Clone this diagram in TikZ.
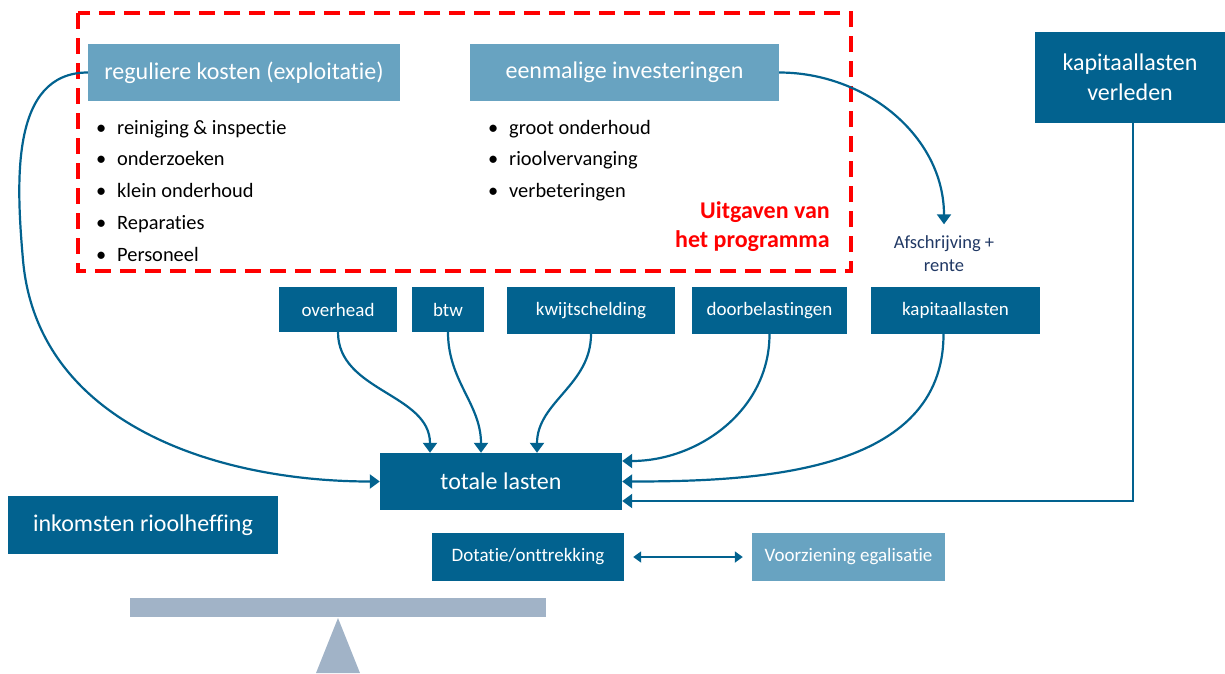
\documentclass[tikz,border=0pt]{standalone}
\usepackage{fontspec}
\setmainfont{Carlito}[Ligatures=NoCommon]
\usetikzlibrary{arrows.meta,positioning}
\definecolor{donker}{HTML}{02628F}
\definecolor{licht}{HTML}{68A3C1}
\definecolor{balk}{HTML}{A1B3C7}
\definecolor{navy}{HTML}{203864}

\begin{document}
\begin{tikzpicture}[x=1pt,y=1pt,
  donkerbox/.style={fill=donker,text=white,inner sep=0pt,align=center,font=\fontsize{24}{30}\selectfont},
  lichtbox/.style={fill=licht,text=white,inner sep=0pt,font=\fontsize{24}{28}\selectfont},
  kleinbox/.style={fill=donker,text=white,inner sep=0pt,font=\fontsize{19}{22}\selectfont},
  item/.style={anchor=base west,inner sep=0pt,font=\fontsize{20.4}{24}\selectfont},
  pijl/.style={draw=donker,line width=2.2pt,-{Triangle[width=14pt,length=10pt]}}]
\useasboundingbox (0,0) rectangle (1225,-673);
% uitgaven van het programma
\draw [red,line width=4pt,dash pattern=on 16pt off 9pt] (78,-13) rectangle (851,-271);
\node [lichtbox,minimum width=312pt,minimum height=57pt] (reg) at (244,-72.5) {reguliere kosten (exploitatie)};
\node [lichtbox,minimum width=309pt,minimum height=57pt] (een) at (624.5,-72.5) {eenmalige investeringen};
\foreach \t [count=\i] in {reiniging \& inspectie,onderzoeken,klein onderhoud,Reparaties,Personeel}{
  \node [item] (r\i) at (117,-134-31.75*\i+31.75) {\t};
  \node [item] at (96,-134-31.75*\i+31.75) {\textbullet};
}
\foreach \t [count=\i] in {groot onderhoud,rioolvervanging,verbeteringen}{
  \node [item] (e\i) at (509,-134-31.75*\i+31.75) {\t};
  \node [item] at (488,-134-31.75*\i+31.75) {\textbullet};
}
\node [anchor=east,align=right,text=red,inner sep=0pt,font=\bfseries\fontsize{24}{29}\selectfont] (uit) at (830,-227) {Uitgaven van\\het programma};
% rechts
\node [donkerbox,minimum width=190pt,minimum height=91pt] (verl) at (1130,-77.5) {kapitaallasten\\verleden};
\node [align=center,text=navy,inner sep=0pt,font=\fontsize{18.5}{23}\selectfont] (afs) at (944,-253.5) {Afschrijving +\\rente};
% kostenposten
\node [kleinbox,minimum width=118pt,minimum height=45pt] (over) at (338,-309.5) {overhead};
\node [kleinbox,minimum width=72pt,minimum height=45pt] (btw) at (448,-309.5) {btw};
\node [kleinbox,minimum width=168pt,minimum height=47pt] (kwijt) at (591,-310.5) {kwijtschelding};
\node [kleinbox,minimum width=155pt,minimum height=47pt] (door) at (769.5,-310.5) {doorbelastingen};
\node [kleinbox,minimum width=169pt,minimum height=47pt] (kap) at (955.5,-310.5) {kapitaallasten};
\node [donkerbox,minimum width=242pt,minimum height=57pt] (tot) at (501,-481.5) {totale lasten};
\node [donkerbox,minimum width=270pt,minimum height=58pt] (ink) at (143,-525) {inkomsten rioolheffing};
\node [kleinbox,minimum width=192pt,minimum height=48pt] (dot) at (528,-557) {Dotatie/onttrekking};
\node [kleinbox,fill=licht,minimum width=193pt,minimum height=48pt] (voor) at (848.5,-557) {Voorziening egalisatie};
% weegschaal
\fill [balk] (130,-598) rectangle (546,-617);
\fill [balk] (316,-673) -- (338,-618) -- (360,-673) -- cycle;
% pijlen
\coordinate (bocht) at (23,-260);
\draw [pijl,-] (reg.west) to[out=180,in=95] (bocht);
\draw [pijl] (bocht) to[out=-85,in=180] (tot.west);
\draw [pijl] (een.east) to[out=0,in=90] ([yshift=11pt]afs.north);
\draw [pijl] (over.south) to[out=-90,in=90] ([xshift=-71pt]tot.north);
\draw [pijl] (btw.south) to[out=-90,in=90] ([xshift=-20pt]tot.north);
\draw [pijl] (kwijt.south) to[out=-90,in=90] ([xshift=36pt]tot.north);
\draw [pijl] (door.south) to[out=-90,in=0] ([yshift=20.5pt]tot.east);
\draw [pijl] ([xshift=-12pt]kap.south) to[out=-90,in=0] (tot.east);
\draw [pijl] ([xshift=3pt]verl.south) |- ([yshift=-19.5pt]tot.east);
\draw [pijl,line width=1.8pt,{Triangle[width=11pt,length=8pt]}-{Triangle[width=11pt,length=8pt]},shorten <=9pt,shorten >=9pt] (dot.east) -- (voor.west);
\end{tikzpicture}
\end{document}
